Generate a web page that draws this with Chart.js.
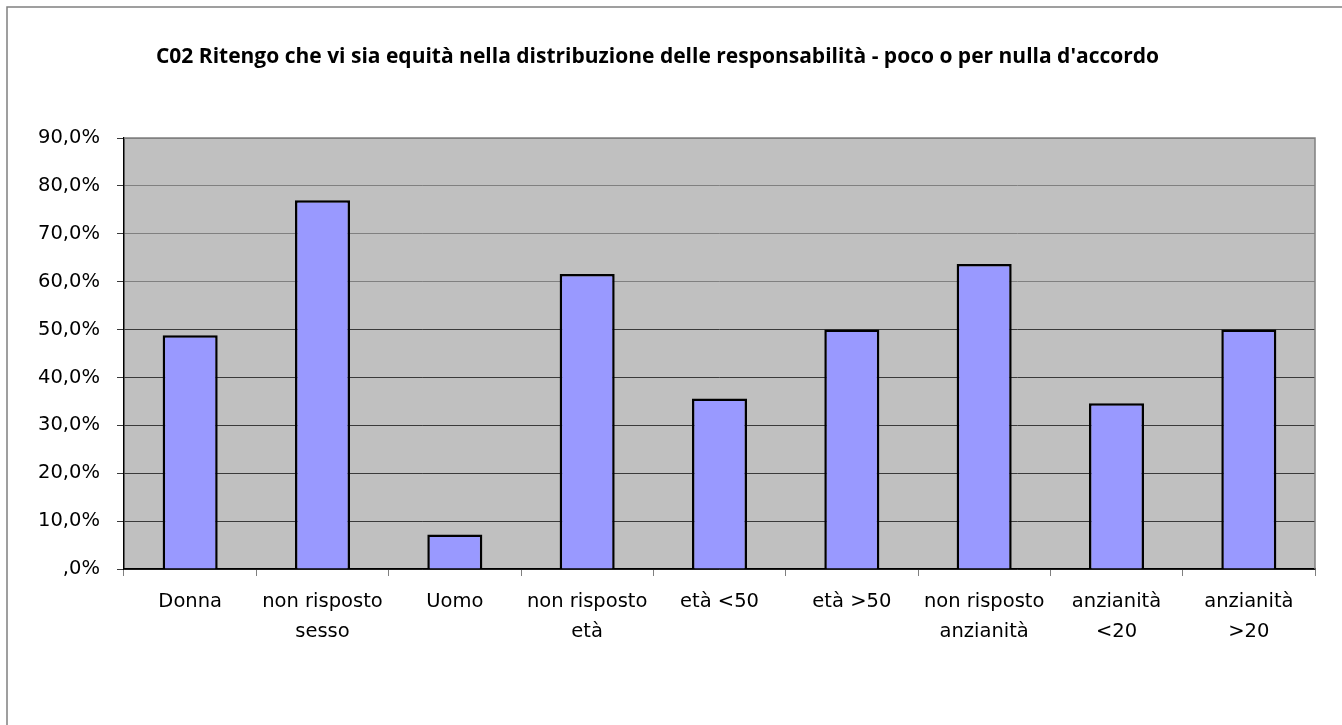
<!DOCTYPE html>
<html>
<head>
<meta charset="utf-8">
<script src="https://cdn.jsdelivr.net/npm/chart.js@4"></script>
<style>
  html, body { margin: 0; padding: 0; background: #fff; }
  #wrap { width: 1342px; height: 725px; }
</style>
</head>
<body>
<div id="wrap"><canvas id="chart" width="1342" height="725"></canvas></div>
<script>
// data
const categories = [
  "Donna", ["non risposto", "sesso"], "Uomo", ["non risposto", "età"],
  "età <50", "età >50", ["non risposto", "anzianità"], ["anzianità", "<20"], ["anzianità", ">20"]
];
const values = [48.8, 77.0, 7.2, 61.6, 35.6, 50.0, 63.7, 34.6, 50.0];
const yTicks = [0, 10, 20, 30, 40, 50, 60, 70, 80, 90];
const titleText = "C02 Ritengo che vi sia equità nella distribuzione delle responsabilità - poco o per nulla d'accordo";

const fmtPct = (v) => (v === 0 ? "" : String(v)) + ",0%";

// background, outer frame and grey plot area
const framePlugin = {
  id: "frame",
  beforeDraw(chart) {
    const { ctx, chartArea: a } = chart;
    ctx.save();
    ctx.fillStyle = "#fff";
    ctx.fillRect(0, 0, chart.width, chart.height);
    ctx.strokeStyle = "#808080";
    ctx.lineWidth = 1.5;
    ctx.strokeRect(7, 7, chart.width + 20, chart.height + 20);
    ctx.fillStyle = "#C0C0C0";
    ctx.fillRect(a.left, a.top, a.right - a.left, a.bottom - a.top);
    ctx.restore();
  },
  afterDatasetsDraw(chart) {
    const { ctx, chartArea: a } = chart;
    ctx.save();
    ctx.strokeStyle = "#808080";
    ctx.lineWidth = 1.5;
    ctx.beginPath();
    ctx.moveTo(a.left, a.top);
    ctx.lineTo(a.right, a.top);
    ctx.lineTo(a.right, a.bottom);
    ctx.stroke();
    ctx.restore();
  }
};

const ctx = document.getElementById("chart").getContext("2d");
new Chart(ctx, {
  type: "bar",
  data: {
    labels: categories,
    datasets: [{
      data: values,
      backgroundColor: "#9999FF",
      borderColor: "#000",
      borderWidth: 2.5,
      categoryPercentage: 0.8,
      barPercentage: 0.52
    }]
  },
  options: {
    responsive: false,
    animation: false,
    layout: { padding: { left: 0, right: 27, top: 0, bottom: 0 } },
    plugins: {
      legend: { display: false },
      tooltip: { enabled: false },
      title: {
        display: true,
        text: titleText,
        color: "#000",
        font: { family: "'Open Sans'", size: 21, weight: "bold", lineHeight: 1.2 },
        padding: { top: 44, bottom: 68.8 }
      }
    },
    scales: {
      x: {
        afterFit: (s) => { s.height = 156; },
        grid: {
          offset: true,
          drawOnChartArea: false,
          tickLength: 7,
          tickColor: "#808080"
        },
        border: { color: "#000", width: 1.5 },
        ticks: {
          color: "#000",
          padding: 11,
          maxRotation: 0,
          autoSkip: false,
          font: { family: "'DejaVu Sans'", size: 19.5, lineHeight: 1.55 }
        }
      },
      y: {
        min: 0,
        max: 90,
        afterFit: (s) => { s.width = 124; },
        afterBuildTicks: (s) => { s.ticks = yTicks.map((v) => ({ value: v })); },
        grid: {
          color: (c) => (c.tick && c.tick.value >= 60 ? "#808080" : "#3a3a3a"),
          lineWidth: 1,
          tickLength: 7,
          tickColor: "#3a3a3a"
        },
        border: { color: "#000", width: 1.5 },
        ticks: {
          color: "#000",
          padding: 17,
          callback: (v) => fmtPct(v),
          font: { family: "'DejaVu Sans'", size: 19.5 }
        }
      }
    }
  },
  plugins: [framePlugin]
});
</script>
</body>
</html>
